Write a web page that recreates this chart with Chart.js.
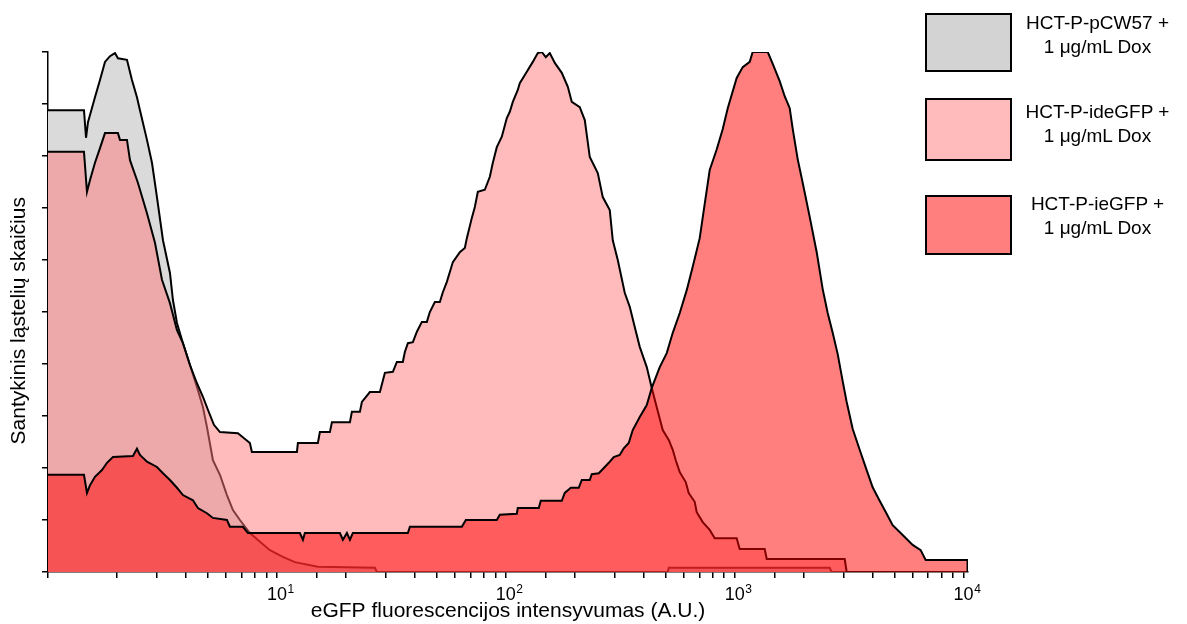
<!DOCTYPE html>
<html>
<head>
<meta charset="utf-8">
<script src="https://cdn.jsdelivr.net/npm/chart.js@4.4.1/dist/chart.umd.min.js"></script>
<style>
  body { margin: 0; background: #fff; }
  #wrap { position: relative; width: 1187px; height: 624px; }
  canvas { position: absolute; left: 0; top: 0; }
  .box { position: absolute; left: 925px; width: 83px; border: 2px solid #000; }
  .lbl { position: absolute; left: 1010px; width: 175px; text-align: center;
         font: 19px "Liberation Sans", Arial, sans-serif; line-height: 23.5px; color: #000; }
</style>
</head>
<body>
<div id="wrap">
  <canvas id="myChart" width="1187" height="624"></canvas>
  <div class="box" style="top:13px;height:55px;background:#d3d3d3"></div>
  <div class="lbl" style="top:11px">HCT-P-pCW57 +<br>1 μg/mL Dox</div>
  <div class="box" style="top:98px;height:59px;background:#ffbbbb"></div>
  <div class="lbl" style="top:100px">HCT-P-ideGFP +<br>1 μg/mL Dox</div>
  <div class="box" style="top:195px;height:56px;background:#ff7f7f"></div>
  <div class="lbl" style="top:192px">HCT-P-ieGFP +<br>1 μg/mL Dox</div>
</div>
<script>
// histogram outlines: fluorescence (A.U.) and relative count (0-100)
const pcw57X = [1.00, 1.436, 1.466, 1.495, 1.604, 1.687, 1.774, 1.865, 1.962, 2.021, 2.213, 2.327, 2.447, 2.522,
  2.706, 2.846, 2.992, 3.179, 3.410, 3.514, 3.659, 3.886, 4.170, 4.474, 4.752, 4.946, 5.254, 5.638, 6.049, 6.425,
  6.893, 7.621, 8.431, 9.321, 10.62, 11.98, 15.10, 26.79, 27.34, 509.9, 515.0, 2599, 2650];
const pcw57Y = [88.8, 88.8, 83.5, 86.5, 91.3, 94.6, 98.1, 99.2, 99.8, 98.8, 98.5, 94.6, 91.3, 88.8,
  83.1, 78.7, 72.1, 63.8, 57.5, 52.3, 47.9, 44.0, 39.8, 35.6, 31.7, 27.9, 21.5, 18.7, 14.8, 11.9,
  10.0, 7.5, 5.8, 4.2, 2.9, 1.9, 1.0, 0.8, 0, 0, 0.8, 0.8, 0];

const ideX = [1.00, 1.436, 1.480, 1.526, 1.604, 1.687, 1.774, 2.021, 2.062, 2.213, 2.281, 2.472, 2.706, 2.933,
  3.147, 3.410, 3.659, 3.886, 4.170, 4.474, 4.752, 4.996, 5.307, 5.638, 6.756, 7.621, 7.775, 12.23, 12.35, 15.10,
  15.41, 17.04, 17.39, 20.84, 21.26, 23.04, 23.51, 25.48, 28.18, 29.63, 32.11, 33.42, 35.49, 36.22, 37.34, 39.27,
  40.88, 42.98, 45.19, 46.57, 48.98, 51.50, 53.08, 55.26, 56.96, 58.70, 62.97, 66.22, 67.57, 71.05, 73.23, 75.47,
  80.97, 85.15, 87.77, 91.34, 96.06, 101.0, 104.1, 107.3, 112.8, 115.1, 123.5, 131.2, 137.9, 143.6, 149.5, 155.6,
  163.7, 175.6, 186.6, 194.2, 210.4, 221.3, 232.7, 252.2, 265.2, 284.5, 293.3, 308.4, 330.8, 347.9, 365.8, 384.7,
  412.8, 434.1, 456.4, 484.8, 515.0, 536.2, 552.6, 575.3, 610.9, 629.6, 668.7, 682.3, 724.8, 777.6, 817.9, 1020,
  1051, 1352, 1380, 3023, 3084];
const ideY = [80.8, 80.8, 73.1, 75.4, 78.7, 81.5, 84.4, 84.4, 83.1, 83.1, 79.2, 74.8, 69.0, 63.3,
  56.2, 51.7, 46.5, 44.0, 39.8, 36.3, 33.7, 31.2, 28.3, 26.9, 26.7, 24.8, 23.1, 23.1, 24.8, 24.8,
  26.9, 26.9, 28.8, 28.8, 30.8, 30.8, 32.7, 34.6, 34.6, 38.3, 38.5, 40.4, 40.4, 42.3, 44.0, 44.2,
  46.2, 48.1, 48.1, 50.0, 51.9, 51.9, 53.8, 55.8, 57.7, 59.6, 61.5, 62.3, 64.2, 68.1, 70.2, 73.1,
  73.5, 76.0, 78.7, 81.7, 83.7, 87.3, 88.5, 90.4, 92.7, 94.0, 96.2, 98.1, 99.8, 100, 99.0, 99.8,
  97.9, 96.0, 93.3, 90.4, 89.4, 86.9, 79.8, 76.7, 72.1, 69.6, 63.8, 60.0, 53.7, 51.0, 47.1, 43.3,
  39.4, 35.4, 31.7, 27.3, 25.4, 23.5, 21.5, 19.2, 17.3, 15.2, 13.5, 11.5, 9.6, 8.1, 6.5, 6.5,
  4.4, 4.4, 2.5, 2.5, 0];

const ieX = [1.00, 1.436, 1.480, 1.526, 1.604, 1.721, 1.810, 1.922, 2.350, 2.447, 2.522, 2.706, 2.992, 3.179,
  3.410, 3.659, 3.886, 4.297, 4.519, 4.946, 5.254, 6.049, 6.234, 7.103, 7.470, 12.60, 12.99, 13.25, 18.84, 19.42,
  20.22, 20.84, 21.47, 37.34, 38.10, 64.25, 66.89, 91.34, 94.15, 111.7, 112.8, 139.3, 142.2, 175.6, 180.9, 192.3,
  208.3, 214.7, 232.7, 237.4, 254.8, 270.6, 281.7, 296.2, 314.6, 327.5, 344.4, 358.5, 384.7, 412.8, 434.1, 470.4,
  504.7, 536.2, 575.3, 617.1, 655.4, 703.2, 739.5, 777.6, 834.6, 886.6, 932.2, 1020, 1084, 1163, 1198, 1394,
  1466, 1572, 1653, 1739, 1792, 1884, 1982, 2126, 2281, 2423, 2548, 2679, 2818, 2962, 3084, 3277, 3515, 3771,
  4005, 4297, 4610, 4898, 5416, 5989, 6491, 6825, 10400, 10400];
const ieY = [18.7, 18.7, 15.2, 16.7, 18.3, 19.6, 21.0, 22.1, 22.3, 23.7, 22.5, 21.2, 20.2, 19.0,
  17.7, 16.2, 14.8, 13.8, 12.3, 11.3, 10.4, 10.0, 8.7, 8.7, 7.5, 7.5, 6.2, 7.5, 7.5, 6.2,
  7.5, 6.2, 7.5, 7.5, 8.7, 8.7, 10.0, 10.0, 11.0, 11.2, 12.3, 12.3, 13.7, 13.7, 15.2, 16.2,
  16.2, 17.7, 17.7, 18.8, 19.0, 20.2, 21.0, 22.1, 22.5, 23.8, 24.8, 27.3, 29.8, 32.1, 35.4, 39.4,
  42.1, 46.0, 49.8, 54.2, 58.7, 64.2, 70.8, 77.3, 81.3, 85.2, 89.2, 95.0, 97.1, 98.1, 100, 100,
  97.7, 94.4, 91.5, 89.2, 85.2, 79.4, 74.8, 68.3, 61.5, 54.4, 49.8, 46.0, 41.9, 36.7, 32.7, 27.5, 23.5, 19.6,
  16.3, 13.7, 11.2, 9.0, 7.1, 5.2, 4.2, 2.3, 2.3, 0];

// decade tick labels: base and exponent
const decadeValues = [10, 100, 1000, 10000];
const decadeExponents = ['1', '2', '3', '4'];

function toPoints(xs, ys) {
  return xs.map((x, i) => ({ x: x, y: ys[i] }));
}

// draws "10" with a raised exponent under each decade tick
const powerLabels = {
  id: 'powerLabels',
  afterDraw(chart) {
    const c = chart.ctx;
    const xScale = chart.scales.x;
    c.save();
    c.fillStyle = '#000';
    c.textBaseline = 'alphabetic';
    decadeValues.forEach((v, i) => {
      const px = xScale.getPixelForValue(v);
      c.font = '18px "Liberation Sans", Arial, sans-serif';
      c.textAlign = 'center';
      c.fillText('10', px, 600);
      const w = c.measureText('10').width;
      c.font = '12px "Liberation Sans", Arial, sans-serif';
      c.textAlign = 'left';
      c.fillText(decadeExponents[i], px + w / 2 + 0.5, 593);
    });
    c.restore();
  }
};

Chart.defaults.font.family = '"Liberation Sans", Arial, sans-serif';
Chart.defaults.color = '#000';

const ctx = document.getElementById('myChart').getContext('2d');

new Chart(ctx, {
  type: 'line',
  data: {
    datasets: [
      {
        label: 'HCT-P-ieGFP + 1 μg/mL Dox',
        data: toPoints(ieX, ieY),
        order: 1,
        backgroundColor: 'rgba(255,0,0,0.5)'
      },
      {
        label: 'HCT-P-ideGFP + 1 μg/mL Dox',
        data: toPoints(ideX, ideY),
        order: 2,
        backgroundColor: 'rgba(255,119,119,0.5)'
      },
      {
        label: 'HCT-P-pCW57 + 1 μg/mL Dox',
        data: toPoints(pcw57X, pcw57Y),
        order: 3,
        backgroundColor: 'rgb(218,218,218)'
      }
    ]
  },
  options: {
    responsive: false,
    animation: false,
    devicePixelRatio: 1,
    layout: { padding: { top: 52, right: 219, left: 0, bottom: 0 } },
    elements: {
      line: { fill: 'origin', borderColor: '#000', borderWidth: 2, tension: 0 },
      point: { radius: 0 }
    },
    plugins: {
      legend: { display: false },
      tooltip: { enabled: false }
    },
    scales: {
      x: {
        type: 'logarithmic',
        min: 1,
        max: 10450,
        grid: { drawOnChartArea: false, tickLength: 6, color: '#000', lineWidth: 1.5 },
        border: { color: '#000', width: 1.5 },
        ticks: {
          autoSkip: false,
          maxRotation: 0,
          font: { size: 18 },
          callback: () => ''
        },
        afterBuildTicks: (scale) => {
          scale.ticks = scale.ticks.filter(t => t.value <= 10000.5);
        },
        afterFit: (scale) => { scale.height = 52; },
        title: {
          display: true,
          text: 'eGFP fluorescencijos intensyvumas (A.U.)',
          font: { size: 21 },
          padding: { top: 0, bottom: 0 }
        }
      },
      y: {
        min: 0,
        max: 100,
        grid: { drawOnChartArea: false, tickLength: 6, color: '#000', lineWidth: 1.5 },
        border: { color: '#000', width: 1.5 },
        ticks: { display: false, stepSize: 10 },
        afterFit: (scale) => { scale.width = 48; },
        title: {
          display: true,
          // trailing no-break spaces nudge the centred title a little lower
          text: 'Santykinis ląstelių skaičius\u00a0\u00a0\u00a0',
          font: { size: 21 },
          padding: { top: 7, bottom: 0 }
        }
      }
    }
  },
  plugins: [powerLabels]
});
</script>
</body>
</html>
